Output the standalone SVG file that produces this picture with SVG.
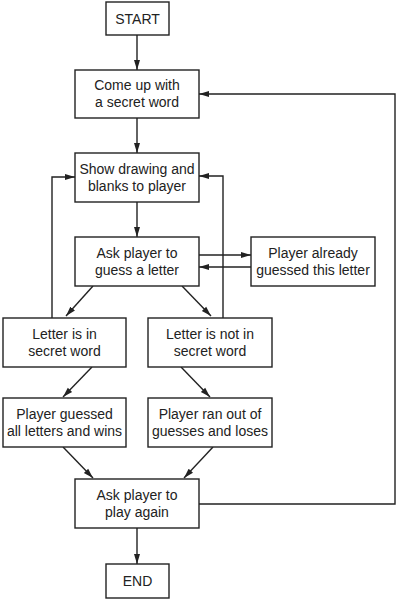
<svg xmlns="http://www.w3.org/2000/svg" width="416" height="600" viewBox="0 0 416 600">
<style>
.box{fill:#fff;stroke:#222;stroke-width:1.4}
.t{font-family:"Liberation Sans",Arial,sans-serif;font-size:14px;fill:#222;text-anchor:middle}
.c{fill:none;stroke:#222;stroke-width:1.4}
</style>
<defs>
<marker id="ah" markerUnits="userSpaceOnUse" markerWidth="10" markerHeight="8" refX="10" refY="4" orient="auto">
<path d="M0,1 L10,4 L0,7 Z" fill="#222"/>
</marker>
</defs>
<rect width="416" height="600" fill="#fff"/>
<g id="connectors">
<line class="c" x1="137" y1="35" x2="137" y2="70" marker-end="url(#ah)"/>
<line class="c" x1="137" y1="118" x2="137" y2="153" marker-end="url(#ah)"/>
<line class="c" x1="137" y1="202" x2="137" y2="237" marker-end="url(#ah)"/>
<line class="c" x1="199" y1="255" x2="251" y2="255" marker-end="url(#ah)"/>
<line class="c" x1="251" y1="267" x2="199" y2="267" marker-end="url(#ah)"/>
<line class="c" x1="93" y1="286" x2="66" y2="316" marker-end="url(#ah)"/>
<line class="c" x1="182" y1="286" x2="211" y2="316" marker-end="url(#ah)"/>
<polyline class="c" points="52,318 52,177 75,177" marker-end="url(#ah)"/>
<polyline class="c" points="223,318 223,176 199,176" marker-end="url(#ah)"/>
<line class="c" x1="92" y1="367" x2="63" y2="397" marker-end="url(#ah)"/>
<line class="c" x1="181" y1="367" x2="210" y2="397" marker-end="url(#ah)"/>
<line class="c" x1="63" y1="447" x2="93" y2="478" marker-end="url(#ah)"/>
<line class="c" x1="213" y1="447" x2="184" y2="478" marker-end="url(#ah)"/>
<polyline class="c" points="199,504 395,504 395,94 199,94" marker-end="url(#ah)"/>
<line class="c" x1="137" y1="528" x2="137" y2="564" marker-end="url(#ah)"/>
</g>
<g id="start"><rect class="box" x="106" y="2" width="63" height="33"/><text class="t" x="137.5" y="23.5">START</text></g>
<g id="come-up"><rect class="box" x="75" y="70" width="124" height="48"/><text class="t" x="137" y="90">Come up with</text><text class="t" x="137" y="107">a secret word</text></g>
<g id="show"><rect class="box" x="75" y="153" width="124" height="49"/><text class="t" x="137" y="173.5">Show drawing and</text><text class="t" x="137" y="190.5">blanks to player</text></g>
<g id="ask-guess"><rect class="box" x="75" y="237" width="124" height="49"/><text class="t" x="137" y="257.5">Ask player to</text><text class="t" x="137" y="274.5">guess a letter</text></g>
<g id="already"><rect class="box" x="251" y="237" width="124" height="49"/><text class="t" x="313" y="257.5">Player already</text><text class="t" x="313" y="274.5">guessed this letter</text></g>
<g id="in-word"><rect class="box" x="3" y="318" width="123" height="49"/><text class="t" x="64.5" y="338.5">Letter is in</text><text class="t" x="64.5" y="355.5">secret word</text></g>
<g id="not-in-word"><rect class="box" x="148" y="318" width="124" height="49"/><text class="t" x="210" y="338.5">Letter is not in</text><text class="t" x="210" y="355.5">secret word</text></g>
<g id="wins"><rect class="box" x="3" y="398" width="123" height="49"/><text class="t" x="64.5" y="418.5">Player guessed</text><text class="t" x="64.5" y="435.5">all letters and wins</text></g>
<g id="loses"><rect class="box" x="148" y="398" width="124" height="49"/><text class="t" x="210" y="418.5">Player ran out of</text><text class="t" x="210" y="435.5">guesses and loses</text></g>
<g id="again"><rect class="box" x="75" y="479" width="124" height="49"/><text class="t" x="137" y="499.5">Ask player to</text><text class="t" x="137" y="516.5">play again</text></g>
<g id="end"><rect class="box" x="106" y="564" width="63" height="34"/><text class="t" x="137.5" y="586">END</text></g>
</svg>
